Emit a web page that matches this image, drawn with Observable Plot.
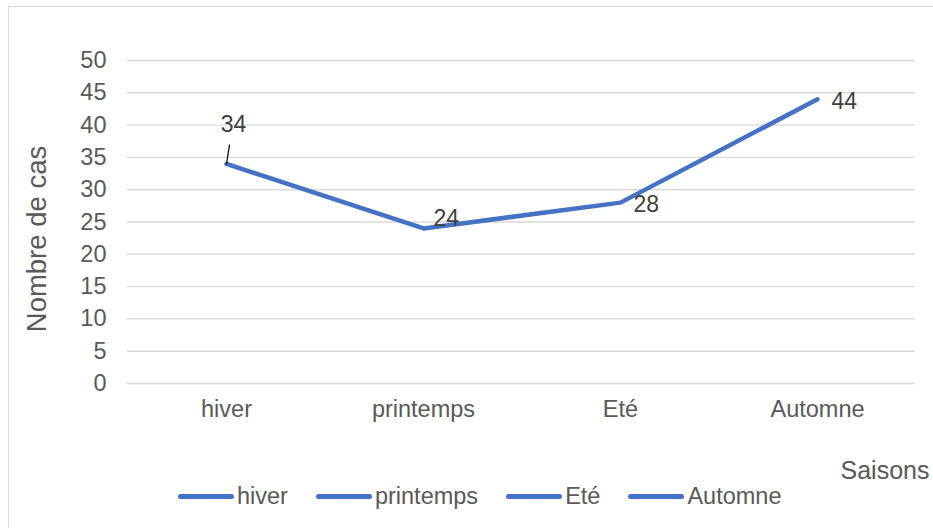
<!DOCTYPE html>
<html>
<head>
<meta charset="utf-8">
<script src="https://cdn.jsdelivr.net/npm/d3@7"></script>
<script src="https://cdn.jsdelivr.net/npm/@observablehq/plot@0.6"></script>
<style>
  body { margin: 0; background: #fff; overflow: hidden; font-family: "Liberation Sans", Arial, sans-serif; }
  #wrap { position: relative; width: 933px; height: 528px; overflow: hidden; }
  #frame { position: absolute; left: 8px; top: 6px; width: 960px; height: 560px; border: 1.5px solid #d9d9d9; box-sizing: border-box; pointer-events: none; }
  #chart { position: absolute; left: 0; top: 0; }
  #legend { position: absolute; left: 178px; top: 483px; display: flex; align-items: center; font-size: 23.5px; color: #595959; }
  .item { display: flex; align-items: center; margin-right: 28px; }
  .swatch { width: 56px; height: 5px; border-radius: 3px; background: #4472C4; margin-right: 3px; }
</style>
</head>
<body>
<div id="wrap">
  <div id="frame"></div>
  <div id="chart"></div>
  <div id="legend"></div>
</div>
<script>
// Seasons and number of cases per season
const seasons = ["hiver", "printemps", "Eté", "Automne"];
const cases = [34, 24, 28, 44];
const yTicks = [0, 5, 10, 15, 20, 25, 30, 35, 40, 45, 50];
const yTitle = "Nombre de cas";
const xTitle = "Saisons";

const data = seasons.map((s, i) => ({season: s, value: cases[i]}));

const blue = "#4472C4";
const grey = "#595959";
const labelColor = "#404040";
const fs = 23.5;

// Short leader line drawn as a vector from the point up to its label
const leader = {
  draw(context, l) {
    context.moveTo(0, 0);
    context.lineTo(0, -l);
  }
};

const label = (i, opts) => Plot.text(data.filter((d, j) => j === i), {
  x: "season", y: "value", text: d => String(d.value),
  fontSize: 23, fill: labelColor, ...opts
});

const chart = Plot.plot({
  width: 933,
  height: 528,
  marginLeft: 127,
  marginRight: 18,
  marginTop: 60,
  marginBottom: 145,
  style: {fontFamily: "'Liberation Sans', Arial, sans-serif", background: "transparent", overflow: "visible"},
  x: {type: "point", domain: seasons, padding: 0.5},
  y: {domain: [0, 50]},
  marks: [
    Plot.ruleY(yTicks, {stroke: "#d9d9d9", strokeWidth: 1.4}),
    Plot.axisY(yTicks, {tickSize: 0, tickPadding: 21, fontSize: fs, fill: grey, label: null}),
    Plot.axisX({tickSize: 0, tickPadding: 17, fontSize: fs, fill: grey, label: null}),
    Plot.text([yTitle], {frameAnchor: "left", textAnchor: "middle", rotate: -90, dx: -90, dy: 17, fontSize: 27.5, fill: grey}),
    Plot.text([xTitle], {frameAnchor: "bottom-right", textAnchor: "start", dx: -75, dy: 95, fontSize: 25, fill: grey}),
    Plot.line(data, {x: "season", y: "value", stroke: blue, strokeWidth: 4.5, strokeLinecap: "round", strokeLinejoin: "round"}),
    Plot.vector(data.filter((d, i) => i === 0), {x: "season", y: "value", length: 19, rotate: 9, anchor: "start", shape: leader, stroke: "#000", strokeWidth: 1.2}),
    label(0, {dx: 7, dy: -39}),
    label(1, {textAnchor: "start", dx: 10, dy: -10}),
    label(2, {textAnchor: "start", dx: 13, dy: 2}),
    label(3, {textAnchor: "start", dx: 14, dy: 2})
  ]
});
document.getElementById("chart").append(chart);

// Legend: one line swatch per season
const legend = document.getElementById("legend");
for (const s of seasons) {
  const item = document.createElement("div");
  item.className = "item";
  const sw = document.createElement("span");
  sw.className = "swatch";
  const tx = document.createElement("span");
  tx.textContent = s;
  item.append(sw, tx);
  legend.append(item);
}
</script>
</body>
</html>
